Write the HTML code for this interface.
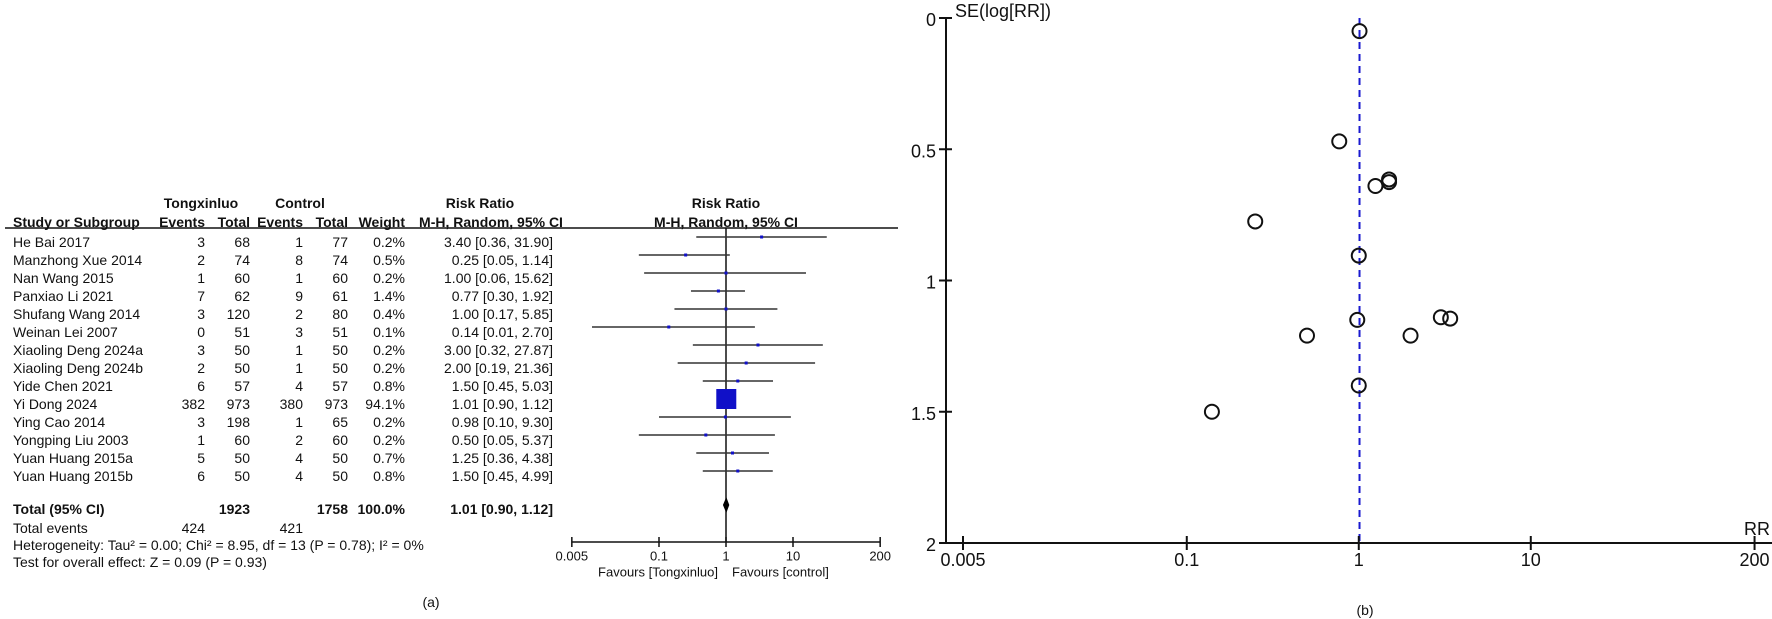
<!DOCTYPE html>
<html><head><meta charset="utf-8"><style>
html,body{margin:0;padding:0;background:#fff;}
svg{display:block;font-family:"Liberation Sans",Arial,sans-serif;}
</style></head><body>
<svg id="s" width="1772" height="619" viewBox="0 0 1772 619" xmlns="http://www.w3.org/2000/svg">
<g id="forest"></g>
<g id="funnel"></g>
</svg>
<script>
const studies=["He Bai 2017","Manzhong Xue 2014","Nan Wang 2015","Panxiao Li 2021","Shufang Wang 2014","Weinan Lei 2007","Xiaoling Deng 2024a","Xiaoling Deng 2024b","Yide Chen 2021","Yi Dong 2024","Ying Cao 2014","Yongping Liu 2003","Yuan Huang 2015a","Yuan Huang 2015b"];
const tEvents=[3,2,1,7,3,0,3,2,6,382,3,1,5,6];
const tTotal=[68,74,60,62,120,51,50,50,57,973,198,60,50,50];
const cEvents=[1,8,1,9,2,3,1,1,4,380,1,2,4,4];
const cTotal=[77,74,60,61,80,51,50,50,57,973,65,60,50,50];
const weights=[0.2,0.5,0.2,1.4,0.4,0.1,0.2,0.2,0.8,94.1,0.2,0.2,0.7,0.8];
const rr=[3.40,0.25,1.00,0.77,1.00,0.14,3.00,2.00,1.50,1.01,0.98,0.50,1.25,1.50];
const lo=[0.36,0.05,0.06,0.30,0.17,0.01,0.32,0.19,0.45,0.90,0.10,0.05,0.36,0.45];
const hi=[31.90,1.14,15.62,1.92,5.85,2.70,27.87,21.36,5.03,1.12,9.30,5.37,4.38,4.99];
const pooled=[1.01,0.90,1.12];
const forestTicks=[0.005,0.1,1,10,200];
const funnelRR=[3.40,0.25,1.00,0.77,1.00,0.14,3.00,2.00,1.50,1.01,0.98,0.50,1.25,1.50];
const funnelSE=[1.145,0.775,1.40,0.47,0.905,1.50,1.14,1.21,0.615,0.05,1.15,1.21,0.64,0.625];
const funnelYTicks=[0,0.5,1,1.5,2];
const funnelXTicks=[0.005,0.1,1,10,200];

const NS="http://www.w3.org/2000/svg";
function mk(parent,tag,attrs,text){const e=document.createElementNS(NS,tag);for(const k in attrs)e.setAttribute(k,attrs[k]);if(text!==undefined)e.textContent=text;parent.appendChild(e);return e;}
const F=document.getElementById('forest');
const fx=v=>726+Math.log10(v)*67;
const rowY=i=>242+18*i;
function txt(p,x,y,s,opt,name){opt=opt||{};const e=mk(p,'text',{x:x,y:y,'font-size':opt.fs||14,'text-anchor':opt.a||'start','font-weight':opt.b?'bold':'normal',fill:'#111','dominant-baseline':'central'},s);

return e;}
txt(F,201,203,'Tongxinluo',{b:1,a:'middle'},'header-tongxinluo');
txt(F,300,203,'Control',{b:1,a:'middle'},'header-control');
txt(F,480,203,'Risk Ratio',{b:1,a:'middle'},'header-risk-ratio');
txt(F,726,203,'Risk Ratio',{b:1,a:'middle'},'header-risk-ratio-plot');
txt(F,13,222,'Study or Subgroup',{b:1},'header-study');
txt(F,205,222,'Events',{b:1,a:'end'},'header-events-t');
txt(F,250,222,'Total',{b:1,a:'end'},'header-total-t');
txt(F,303,222,'Events',{b:1,a:'end'},'header-events-c');
txt(F,348,222,'Total',{b:1,a:'end'},'header-total-c');
txt(F,405,222,'Weight',{b:1,a:'end'},'header-weight');
txt(F,491,222,'M-H, Random, 95% CI',{b:1,a:'middle'},'header-mh');
txt(F,726,222,'M-H, Random, 95% CI',{b:1,a:'middle'},'header-mh-plot');
let hl=mk(F,'line',{x1:5,x2:898,y1:228,y2:228,stroke:'#111','stroke-width':1.5});


let vl=mk(F,'line',{x1:726,x2:726,y1:228,y2:542,stroke:'#111','stroke-width':1.5});


studies.forEach((s,i)=>{const y=rowY(i);
txt(F,13,y,s,{},'study-name');
txt(F,205,y,String(tEvents[i]),{a:'end'},'events-t');
txt(F,250,y,String(tTotal[i]),{a:'end'},'total-t');
txt(F,303,y,String(cEvents[i]),{a:'end'},'events-c');
txt(F,348,y,String(cTotal[i]),{a:'end'},'total-c');
txt(F,405,y,weights[i].toFixed(1)+'%',{a:'end'},'weight');
txt(F,553,y,rr[i].toFixed(2)+' ['+lo[i].toFixed(2)+', '+hi[i].toFixed(2)+']',{a:'end'},'risk-ratio-ci');
const ly=y-5;
const l=mk(F,'line',{x1:fx(lo[i]),x2:fx(hi[i]),y1:ly,y2:ly,stroke:'#333','stroke-width':1.5});


const sz=Math.max(3,Math.sqrt(weights[i]/94.1)*20);
const r=mk(F,'rect',{x:fx(rr[i])-sz/2,y:ly-sz/2,width:sz,height:sz,fill:'#1010c8'});


});
txt(F,13,509,'Total (95% CI)',{b:1},'total-label');
txt(F,250,509,'1923',{b:1,a:'end'},'total-n-t');
txt(F,348,509,'1758',{b:1,a:'end'},'total-n-c');
txt(F,405,509,'100.0%',{b:1,a:'end'},'total-weight');
txt(F,553,509,pooled[0].toFixed(2)+' ['+pooled[1].toFixed(2)+', '+pooled[2].toFixed(2)+']',{b:1,a:'end'},'total-ci');
txt(F,13,528,'Total events',{},'total-events-label');
txt(F,205,528,'424',{a:'end'},'total-events-t');
txt(F,303,528,'421',{a:'end'},'total-events-c');
txt(F,13,545,'Heterogeneity: Tau² = 0.00; Chi² = 8.95, df = 13 (P = 0.78); I² = 0%',{},'heterogeneity');
txt(F,13,562,'Test for overall effect: Z = 0.09 (P = 0.93)',{},'overall-effect');
const dy=505;
const d=mk(F,'polygon',{points:`${fx(pooled[1])},${dy} ${fx(pooled[0])},${dy-8} ${fx(pooled[2])},${dy} ${fx(pooled[0])},${dy+8}`,fill:'#000'});


const fa=mk(F,'line',{x1:fx(0.005),x2:fx(200),y1:542,y2:542,stroke:'#111','stroke-width':1.5});


forestTicks.forEach(t=>{const x=fx(t);
const tk=mk(F,'line',{x1:x,x2:x,y1:537,y2:547,stroke:'#111','stroke-width':1.5});


txt(F,x,556,String(t),{a:'middle',fs:13},'forest-tick-label');});
txt(F,718,572,'Favours [Tongxinluo]',{a:'end',fs:13},'favours-left');
txt(F,732,572,'Favours [control]',{fs:13},'favours-right');
txt(F,431,602,'(a)',{a:'middle',fs:14},'panel-label-a');

const G=document.getElementById('funnel');
const gx=v=>963+(Math.log10(v)-Math.log10(0.005))*172;
const gy=v=>18+v*262.5;
const dl=mk(G,'line',{x1:gx(pooled[0]),x2:gx(pooled[0]),y1:gy(0),y2:gy(2),stroke:'#1a1ad0','stroke-width':2,'stroke-dasharray':'7,5'});


const ya=mk(G,'line',{x1:946,x2:946,y1:gy(0),y2:gy(2),stroke:'#111','stroke-width':2});


const xa=mk(G,'line',{x1:940,x2:1772,y1:gy(2),y2:gy(2),stroke:'#111','stroke-width':2});


funnelYTicks.forEach(t=>{const y=gy(t);
const tk=mk(G,'line',{x1:939,x2:952,y1:y,y2:y,stroke:'#111','stroke-width':2});


txt(G,936,y+2,String(t),{a:'end',fs:18},'funnel-y-tick-label');});
funnelXTicks.forEach(t=>{const x=gx(t);
const tk=mk(G,'line',{x1:x,x2:x,y1:gy(2)-7,y2:gy(2)+7,stroke:'#111','stroke-width':2});


txt(G,x,gy(2)+17,String(t),{a:'middle',fs:18},'funnel-x-tick-label');});
txt(G,955,11,'SE(log[RR])',{fs:18},'funnel-y-title');
txt(G,1770,gy(2)-14,'RR',{a:'end',fs:18},'funnel-x-title');
txt(G,1365,610,'(b)',{a:'middle',fs:14},'panel-label-b');
funnelRR.forEach((v,i)=>{
const c=mk(G,'circle',{cx:gx(v),cy:gy(funnelSE[i]),r:7,fill:'none',stroke:'#111','stroke-width':2});


});
</script>
</body></html>
